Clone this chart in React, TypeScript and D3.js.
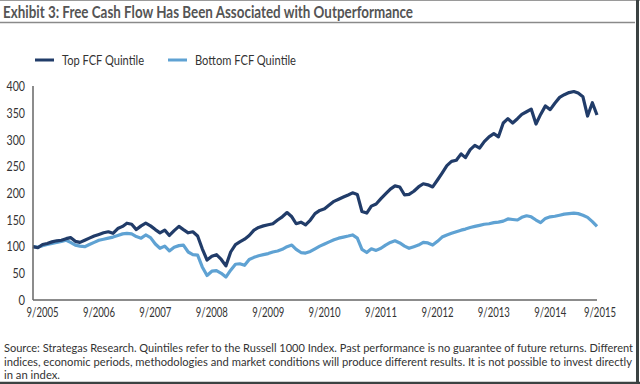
import React from "react";
import * as d3 from "d3";

const TITLE = "Exhibit 3: Free Cash Flow Has Been Associated with Outperformance";
const SERIES_NAMES = ["Top FCF Quintile", "Bottom FCF Quintile"];
const START = "2005-07-01";
const TOP_FCF = [
  100, 98, 104, 106, 109, 111, 112, 115, 117, 110, 108, 112, 116, 120, 123, 126, 128, 125, 134, 138,
  144, 142, 132, 139, 144, 139, 132, 126, 131, 121, 130, 138, 132, 126, 128, 120, 96, 75, 82, 85,
  76, 64, 90, 104, 109, 114, 121, 131, 136, 139, 141, 143, 150, 156, 164, 156, 143, 146, 141, 150,
  162, 168, 171, 178, 185, 189, 193, 197, 201, 198, 166, 163, 176, 180, 190, 199, 208, 214, 212, 197,
  198, 204, 212, 218, 216, 212, 225, 238, 252, 260, 262, 274, 267, 282, 290, 285, 297, 306, 312, 306,
  332, 340, 332, 340, 348, 353, 358, 330, 348, 364, 357, 369, 380, 385, 389, 391, 388, 381, 345, 370,
  347,
];
const BOTTOM_FCF = [
  100, 99, 102, 104, 106, 108, 110, 112, 108, 103, 101, 100, 104, 108, 112, 114, 116, 118, 121, 124,
  125, 124, 119, 116, 122, 117, 105, 97, 101, 92, 99, 102, 103, 90, 85, 84, 62, 46, 54, 55,
  50, 43, 56, 67, 68, 65, 76, 80, 83, 85, 87, 90, 92, 95, 100, 103, 95, 89, 88, 91,
  96, 101, 105, 109, 113, 116, 118, 120, 122, 116, 95, 89, 96, 93, 97, 103, 108, 111, 107, 101,
  97, 100, 103, 108, 107, 103, 110, 118, 122, 125, 128, 131, 133, 136, 138, 140, 142, 143, 145, 146,
  148, 152, 151, 150, 155, 158, 156, 150, 145, 153, 156, 157, 159, 161, 162, 163, 162, 159, 155, 147,
  138,
];
const Y_TICKS = [0, 50, 100, 150, 200, 250, 300, 350, 400];
const X_TICK_YEARS = [2005, 2006, 2007, 2008, 2009, 2010, 2011, 2012, 2013, 2014, 2015];
const FOOTNOTE = [
  "Source: Strategas Research. Quintiles refer to the Russell 1000 Index. Past performance is no guarantee of future returns. Different",
  "indices, economic periods, methodologies and market conditions will produce different results.  It is not possible to invest directly",
  "in an index.",
];

const COLORS = ["#213c69", "#5fa2d3"];
const FONT = "Lato, 'Open Sans', sans-serif";

export default function App() {
  const start = new Date(START + "T00:00:00");
  const dates = TOP_FCF.map((_, i) => d3.timeMonth.offset(start, i));
  const x = d3
    .scaleTime()
    .domain([dates[0], dates[dates.length - 1]])
    .range([33, 597]);
  const y = d3.scaleLinear().domain([0, 400]).range([300, 86.7]);

  const line = d3
    .line<number>()
    .x((_, i) => x(dates[i]))
    .y((d) => y(d))
    .curve(d3.curveLinear);

  const series = [TOP_FCF, BOTTOM_FCF];

  return (
    <svg
      width={640}
      height={384}
      style={{ position: "absolute", left: 0, top: 0, background: "#fff" }}
      fontFamily={FONT}
    >
      <rect x={0} y={0} width={640} height={384} fill="#fff" />
      {/* frame */}
      <line x1={0} x2={640} y1={0.5} y2={0.5} stroke="#9a9a9a" strokeWidth={1} />
      <line x1={637.5} x2={637.5} y1={0} y2={384} stroke="#3b4242" strokeWidth={3} />
      <line x1={0} x2={640} y1={383} y2={383} stroke="#3b4242" strokeWidth={2.5} />

      {/* title */}
      <text
        x={3}
        y={18}
        fontSize={17.5}
        fontWeight={700}
        fill="#555"
        textLength={410}
        lengthAdjust="spacingAndGlyphs"
      >
        {TITLE}
      </text>
      <line x1={0} x2={635} y1={22.5} y2={22.5} stroke="#8a8a8a" strokeWidth={1.5} />

      {/* legend */}
      {SERIES_NAMES.map((name, i) => {
        const lx = i === 0 ? 35 : 168;
        const tw = i === 0 ? 82 : 101;
        return (
          <g key={name}>
            <line x1={lx} x2={lx + 19} y1={60} y2={60} stroke={COLORS[i]} strokeWidth={3} />
            <text
              x={lx + 27}
              y={64.5}
              fontSize={12.5}
              fill="#333"
              textLength={tw}
              lengthAdjust="spacingAndGlyphs"
            >
              {name}
            </text>
          </g>
        );
      })}

      {/* y ticks */}
      {Y_TICKS.map((t) => (
        <text
          key={t}
          x={25}
          y={y(t) + 4.5}
          fontSize={13}
          fill="#333"
          textAnchor="end"
          textLength={t >= 100 ? 18.5 : t > 0 ? 12.5 : 6.5}
          lengthAdjust="spacingAndGlyphs"
        >
          {t}
        </text>
      ))}

      {/* x ticks */}
      {X_TICK_YEARS.map((yr) => {
        const px = Math.min(x(new Date(yr, 8, 1)), 600);
        return (
          <text
            key={yr}
            x={px}
            y={317}
            fontSize={13}
            fill="#333"
            textAnchor="middle"
            textLength={32}
            lengthAdjust="spacingAndGlyphs"
          >
            {`9/${yr}`}
          </text>
        );
      })}

      {/* series */}
      {series
        .slice()
        .reverse()
        .map((s, ri) => {
          const i = series.length - 1 - ri;
          return (
            <path
              key={i}
              d={line(s) || ""}
              fill="none"
              stroke={COLORS[i]}
              strokeWidth={3.2}
              strokeLinejoin="round"
            />
          );
        })}

      {/* axes */}
      <line x1={33} x2={33} y1={86} y2={300} stroke="#666" strokeWidth={1.5} />
      <line x1={33} x2={597} y1={300} y2={300} stroke="#666" strokeWidth={1.5} />

      {/* footnote */}
      {FOOTNOTE.map((t, i) => (
        <text
          key={i}
          x={4}
          y={352 + i * 13.5}
          fontSize={11}
          fill="#333"
          textLength={i === 0 ? 629 : i === 1 ? 628 : 56}
          lengthAdjust="spacingAndGlyphs"
        >
          {t}
        </text>
      ))}
    </svg>
  );
}
